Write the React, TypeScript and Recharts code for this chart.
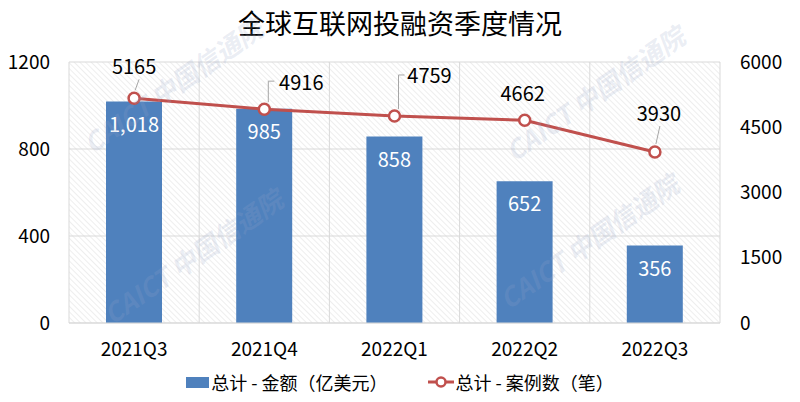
import React from 'react'
import { ComposedChart, Bar, Line, XAxis, YAxis, CartesianGrid, LabelList } from 'recharts'

const quarters = ['2021Q3', '2021Q4', '2022Q1', '2022Q2', '2022Q3']
const amounts = [1018, 985, 858, 652, 356]
const deals = [5165, 4916, 4759, 4662, 3930]
const leftTicks = [0, 400, 800, 1200]
const rightTicks = [0, 1500, 3000, 4500, 6000]

// where each count label sits relative to its point, and what leader it gets
const LABEL_SHIFT = [
  { dx: 0, dy: -33, leader: 'straight' },
  { dx: 37, dy: -28, leader: 'elbow' },
  { dx: 35, dy: -41, leader: 'elbow' },
  { dx: -2, dy: -28, leader: 'none' },
  { dx: 4, dy: -40, leader: 'straight' },
]

const FONT = '"Noto Sans CJK SC", "Noto Sans", sans-serif'
const BLUE = '#4F81BD'
const RED = '#C0504D'

const rows = quarters.map((q, i) => ({ name: q, amount: amounts[i], deals: deals[i] }))

const DealLabel = (props: any) => {
  const { x, y, value, index } = props
  const s = LABEL_SHIFT[index] || { dx: 0, dy: -35, leader: 'none' }
  const lx = x + s.dx
  const ly = y + s.dy
  let leader = null
  if (s.leader === 'elbow') {
    leader = <polyline points={`${x + 4},${y - 7} ${x + 4},${ly} ${x + 10},${ly}`} fill="none" stroke="#a6a6a6" strokeWidth={1} />
  } else if (s.leader === 'straight') {
    leader = <line x1={x + 1} y1={y - 8} x2={x + 5} y2={ly + 14} stroke="#a6a6a6" strokeWidth={1} />
  }
  return (
    <g>
      {leader}
      <text x={lx} y={ly} textAnchor="middle" dominantBaseline="central" fontSize={20} fill="#000" fontFamily={FONT}>
        {value}
      </text>
    </g>
  )
}

const marks = [
  { left: 78, top: 134 },
  { left: 500, top: 142 },
  { left: 98, top: 305 },
  { left: 494, top: 290 },
]

export default function App() {
  return (
    <div style={{ position: 'absolute', left: 0, top: 0, width: 800, height: 402, background: '#fff', fontFamily: FONT, overflow: 'hidden' }}>
      <div style={{ position: 'absolute', top: 9, left: 0, width: 800, textAlign: 'center', fontSize: 27, lineHeight: '28px', color: '#000' }}>
        全球互联网投融资季度情况
      </div>
      <ComposedChart width={800} height={402} data={rows} margin={{ top: 62, right: 0, bottom: 0, left: 9 }}>
        <defs>
          <pattern id="hatch" width="4" height="4" patternUnits="userSpaceOnUse" patternTransform="rotate(-45)">
            <line x1="0" y1="0" x2="0" y2="4" stroke="#e3e3e3" strokeWidth="1.2" />
          </pattern>
        </defs>
        <CartesianGrid
          yAxisId="left"
          stroke="#d9d9d9"
          fill="url(#hatch)"
          fillOpacity={1}
          verticalCoordinatesGenerator={({ offset }: any) =>
            quarters.map((_, i) => offset.left + (i * offset.width) / quarters.length).concat(offset.left + offset.width)
          }
        />
        <XAxis
          dataKey="name"
          height={79}
          tickSize={0}
          tickMargin={20}
          axisLine={{ stroke: '#d9d9d9' }}
          tick={{ fontSize: 19, fill: '#000', fontFamily: FONT }}
        />
        <YAxis
          yAxisId="left"
          domain={[0, 1200]}
          ticks={leftTicks}
          width={60}
          tickSize={0}
          tickMargin={19}
          axisLine={false}
          tick={{ fontSize: 19, fill: '#000', fontFamily: FONT }}
        />
        <YAxis
          yAxisId="right"
          orientation="right"
          domain={[0, 6000]}
          ticks={rightTicks}
          width={80}
          tickSize={0}
          tickMargin={20}
          axisLine={false}
          tick={{ fontSize: 19, fill: '#000', fontFamily: FONT, textAnchor: 'start' }}
        />
        <Bar yAxisId="left" dataKey="amount" fill={BLUE} barSize={56} isAnimationActive={false}>
          <LabelList
            dataKey="amount"
            position="insideTop"
            offset={16}
            formatter={(v: any) => Number(v).toLocaleString('en-US')}
            style={{ fontSize: 20, fill: '#fff', fontFamily: FONT }}
          />
        </Bar>
        <Line
          yAxisId="right"
          dataKey="deals"
          stroke={RED}
          strokeWidth={3}
          dot={{ r: 5.5, stroke: RED, strokeWidth: 2.5, fill: '#fff' }}
          isAnimationActive={false}
        >
          <LabelList dataKey="deals" content={DealLabel} />
        </Line>
      </ComposedChart>
      {marks.map((m, i) => (
        <div
          key={i}
          style={{
            position: 'absolute',
            left: m.left,
            top: m.top,
            transform: 'rotate(-35deg)',
            transformOrigin: '0 0',
            whiteSpace: 'nowrap',
            fontSize: 26,
            lineHeight: '28px',
            fontWeight: 'bold',
            fontStyle: 'italic',
            color: 'rgba(150,165,200,0.2)',
            pointerEvents: 'none',
          }}
        >
          CAICT 中国信通院
        </div>
      ))}
      <div style={{ position: 'absolute', top: 369, left: 0, width: 800, display: 'flex', justifyContent: 'center', alignItems: 'center', fontSize: 18, lineHeight: '26px', color: '#000' }}>
        <span style={{ display: 'inline-block', width: 23, height: 11, background: BLUE, marginRight: 2 }} />
        <span style={{ marginRight: 40 }}>总计 - 金额（亿美元）</span>
        <svg width={26} height={14} style={{ marginRight: 2 }}>
          <line x1={0} y1={7} x2={26} y2={7} stroke={RED} strokeWidth={3} />
          <circle cx={13} cy={7} r={4.5} stroke={RED} strokeWidth={2.5} fill="#fff" />
        </svg>
        <span>总计 - 案例数（笔）</span>
      </div>
    </div>
  )
}
